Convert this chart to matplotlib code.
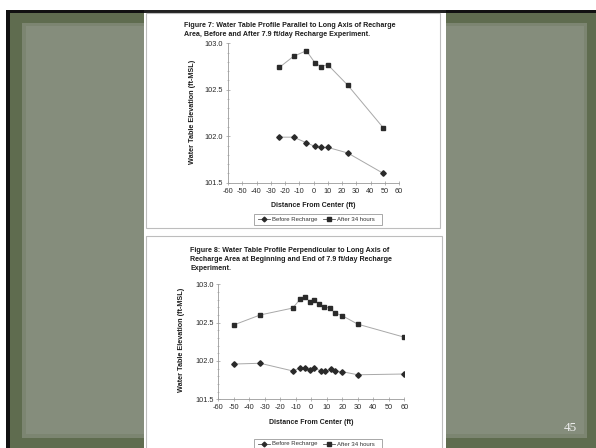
import matplotlib
matplotlib.use("Agg")
import matplotlib.pyplot as plt
from matplotlib.patches import Rectangle
from matplotlib.lines import Line2D
from matplotlib.ticker import MultipleLocator, FormatStrFormatter

# ---------------- data ----------------
fig7_x_before = [-24, -14, -5, 1, 5, 10, 24, 49]
fig7_before = [101.99, 101.99, 101.93, 101.89, 101.88, 101.88, 101.82, 101.60]
fig7_x_after = [-24, -14, -5, 1, 5, 10, 24, 49]
fig7_after = [102.74, 102.86, 102.92, 102.79, 102.75, 102.77, 102.55, 102.09]

fig8_x_before = [-50, -33, -12, -7, -4, -1, 2, 6, 9, 13, 15, 20, 30, 60]
fig8_before = [101.96, 101.97, 101.87, 101.91, 101.91, 101.88, 101.91, 101.87,
               101.87, 101.89, 101.87, 101.86, 101.82, 101.83]
fig8_x_after = [-50, -33, -12, -7, -4, -1, 2, 5, 8, 12, 15, 20, 30, 60]
fig8_after = [102.47, 102.60, 102.69, 102.81, 102.84, 102.77, 102.79, 102.74,
              102.71, 102.69, 102.63, 102.59, 102.48, 102.31]

x_ticks = [-60, -50, -40, -30, -20, -10, 0, 10, 20, 30, 40, 50, 60]
y_ticks = [101.5, 102.0, 102.5, 103.0]

fig7_title = ("Figure 7: Water Table Profile Parallel to Long Axis of Recharge\n"
              "Area, Before and After 7.9 ft/day Recharge Experiment.")
fig8_title = ("Figure 8: Water Table Profile Perpendicular to Long Axis of\n"
              "Recharge Area at Beginning and End of 7.9 ft/day Recharge\n"
              "Experiment.")
y_label = "Water Table Elevation (ft-MSL)"
x_label = "Distance From Center (ft)"
legend_labels = ["Before Recharge", "After 34 hours"]
page_number = "45"

# ---------------- figure ----------------
W, H = 596, 448
plt.rcParams['font.family'] = ['Liberation Sans', 'DejaVu Sans']
plt.rcParams['axes.unicode_minus'] = False
fig = plt.figure(figsize=(W / 100, H / 100), dpi=100)

bg = fig.add_axes([0, 0, 1, 1])
bg.set_xlim(0, W)
bg.set_ylim(H, 0)
bg.axis('off')

def rect(x0, y0, x1, y1, color, z=0, fill=True, lw=0, ec=None):
    bg.add_patch(Rectangle((x0, y0), x1 - x0, y1 - y0, facecolor=color if fill else 'none',
                           edgecolor=ec if ec else 'none', linewidth=lw, zorder=z))

rect(0, 0, W, H, 'white', 0)
rect(6, 10, W, H, '#111111', 1)
rect(10, 13, W, H, '#5f6c4f', 2)
rect(22, 23, 587, 438, '#7c8571', 3)
rect(26, 26, 584, 434, '#858d7c', 4)
# page
rect(144, 10, 446, H, 'white', 5)
rect(144, 10, 446, 13, '#222222', 6)
# panel frames
rect(146, 13, 440, 228, 'white', 6, fill=False, lw=0.8, ec='#bdbdbd')
rect(146, 236, 442, H + 5, 'white', 6, fill=False, lw=0.8, ec='#bdbdbd')

bg.text(570, 428, page_number, family=['Liberation Serif', 'DejaVu Serif'],
        fontsize=9.5, color='#eeeeee', ha='center', va='center', zorder=10)

def px_axes(x0, y_top, x1, y_bot):
    return fig.add_axes([x0 / W, 1 - y_bot / H, (x1 - x0) / W, (y_bot - y_top) / H])

def style(ax):
    ax.set_facecolor('none')
    ax.set_xlim(-60, 60)
    ax.set_ylim(101.5, 103.0)
    for s in ['top', 'right']:
        ax.spines[s].set_visible(False)
    for s in ['left', 'bottom']:
        ax.spines[s].set_color('#9a9a9a')
        ax.spines[s].set_linewidth(0.6)
    ax.set_xticks(x_ticks)
    ax.set_yticks(y_ticks)
    ax.yaxis.set_major_formatter(FormatStrFormatter('%.1f'))
    ax.yaxis.set_minor_locator(MultipleLocator(0.1))
    ax.tick_params(axis='both', which='major', direction='inout', length=3, width=0.5,
                   color='#9a9a9a', labelsize=5.3, labelcolor='#2a2a2a', pad=2)
    ax.tick_params(axis='y', which='minor', direction='inout', length=2, width=0.4,
                   color='#9a9a9a')

def plot_series(ax, xb, yb, xa, ya):
    ax.plot(xb, yb, color='#a8a8a8', lw=0.7, marker='D', ms=2.8,
            mfc='#2a2a2a', mec='#2a2a2a', zorder=3)
    ax.plot(xa, ya, color='#a8a8a8', lw=0.7, marker='s', ms=3.0,
            mfc='#2a2a2a', mec='#2a2a2a', zorder=3)

def legend_box(x0, y0, x1, y1):
    rect(x0, y0, x1, y1, 'white', 8, fill=True, lw=0.6, ec='#9a9a9a')
    yc = (y0 + y1) / 2
    # before
    bg.add_line(Line2D([x0 + 4, x0 + 16], [yc, yc], color='#555555', lw=0.6, zorder=9))
    bg.add_line(Line2D([x0 + 10], [yc], marker='D', ms=2.4, color='#2a2a2a', zorder=9))
    bg.text(x0 + 18, yc, legend_labels[0], fontsize=4.3, color='#333333',
            va='center', ha='left', zorder=9)
    # after
    xa = x0 + 69
    bg.add_line(Line2D([xa, xa + 12], [yc, yc], color='#555555', lw=0.6, zorder=9))
    bg.add_line(Line2D([xa + 6], [yc], marker='s', ms=2.6, color='#2a2a2a', zorder=9))
    bg.text(xa + 14, yc, legend_labels[1], fontsize=4.3, color='#333333',
            va='center', ha='left', zorder=9)

# ---- Figure 7 ----
ax1 = px_axes(228, 43.3, 399, 182.7)
style(ax1)
plot_series(ax1, fig7_x_before, fig7_before, fig7_x_after, fig7_after)
bg.text(184, 30, fig7_title, fontsize=5.1, fontweight='bold', color='#1e1e1e',
        ha='left', va='center', linespacing=1.35, zorder=9)
bg.text(192, 112, y_label, fontsize=5.2, fontweight='bold', color='#1e1e1e',
        rotation=90, ha='center', va='center', zorder=9)
bg.text(313, 205.3, x_label, fontsize=5.0, fontweight='bold', color='#1e1e1e',
        ha='center', va='center', zorder=9)
legend_box(254, 214, 382, 225)

# ---- Figure 8 ----
ax2 = px_axes(218.3, 284.3, 404.3, 399.3)
style(ax2)
plot_series(ax2, fig8_x_before, fig8_before, fig8_x_after, fig8_after)
bg.text(190.5, 259.4, fig8_title, fontsize=5.1, fontweight='bold', color='#1e1e1e',
        ha='left', va='center', linespacing=1.35, zorder=9)
bg.text(181.5, 340, y_label, fontsize=5.2, fontweight='bold', color='#1e1e1e',
        rotation=90, ha='center', va='center', zorder=9)
bg.text(311, 422, x_label, fontsize=5.0, fontweight='bold', color='#1e1e1e',
        ha='center', va='center', zorder=9)
legend_box(254, 439, 382, 449)

fig.savefig("out.png", dpi=100)
